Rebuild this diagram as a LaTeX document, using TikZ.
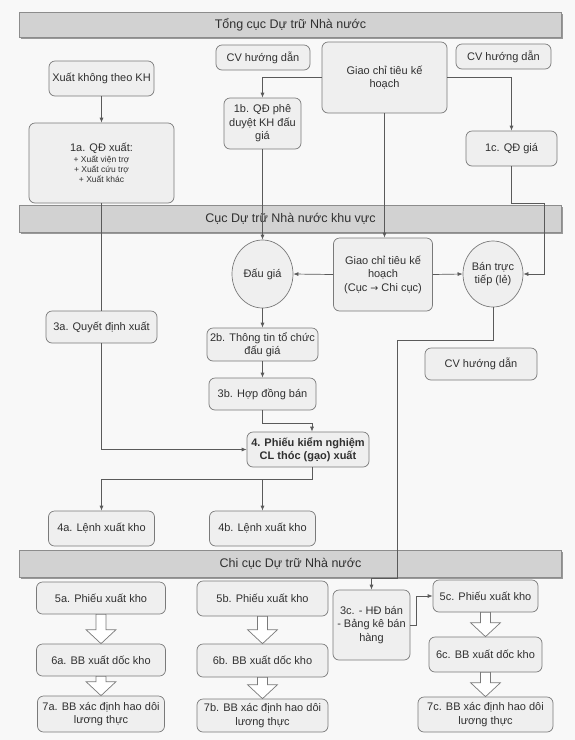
\documentclass[tikz,border=0pt]{standalone}
\usepackage{fontspec}
\setmainfont{Liberation Sans}
\newfontfamily\dejavu{DejaVu Sans}
\usetikzlibrary{arrows.meta,shapes.geometric,calc,shadows}
\definecolor{bgc}{HTML}{F8F8F8}
\definecolor{boxfill}{HTML}{EFEFEF}
\definecolor{boxline}{HTML}{7A7A7A}
\definecolor{bandfill}{HTML}{D2D2D2}
\definecolor{bandline}{HTML}{8C8C8C}
\definecolor{linec}{HTML}{5A5A5A}
\definecolor{txt}{HTML}{303030}
\newcommand{\harrow}[2]{\path[hollow] let \p1=(#1.south), \p2=(#2.north) in
  ({\x1-5pt},\y1) -- ({\x1+5pt},\y1) -- ({\x1+5pt},{\y2+14pt}) -- ({\x1+15pt},{\y2+14pt})
  -- (\x1,\y2) -- ({\x1-15pt},{\y2+14pt}) -- ({\x1-5pt},{\y2+14pt}) -- cycle;}
\newcommand{\smalltxt}{\fontsize{8.5}{10}\selectfont}
\begin{document}
\begin{tikzpicture}[x=1pt,y=-1pt,
 box/.style={draw=boxline, fill=boxfill, rounded corners=6pt, align=center, inner sep=1pt,
   text=txt, font=\fontsize{11}{13.5}\selectfont, line width=0.7pt},
 oval/.style={ellipse, draw=boxline, fill=boxfill, align=center, inner sep=0pt,
   text=txt, font=\fontsize{11}{13.5}\selectfont, line width=0.7pt},
 band/.style={draw=bandline, fill=bandfill, text=txt, font=\fontsize{12.5}{15}\selectfont,
   minimum width=542pt, inner sep=0pt, line width=0.7pt,
   drop shadow={shadow xshift=1pt, shadow yshift=-1.5pt, fill=black!40, opacity=1}},
 conn/.style={draw=linec, line width=0.7pt},
 arr/.style={conn, -{Latex[length=5pt,width=4pt]}},
 hollow/.style={draw=boxline, fill=white, line width=0.7pt}
]
\fill[bgc] (0,0) rectangle (575,740);
\useasboundingbox (0,0) rectangle (575,740);

% bands
\node[band, minimum height=25pt] (band1) at (290.5,24.5) {Tổng cục Dự trữ Nhà nước};
\node[band, minimum height=27pt] (band2) at (290.5,218.5) {Cục Dự trữ Nhà nước khu vực};
\node[band, minimum height=27pt] (band3) at (290.5,563.5) {Chi cục Dự trữ Nhà nước};

% level 1
\node[box, minimum width=94pt, minimum height=25pt] (cv1) at (263,57.5) {CV hướng dẫn};
\node[box, minimum width=125pt, minimum height=71pt] (giaoT) at (384.5,77.5) {Giao chỉ tiêu kế\\hoạch};
\node[box, minimum width=95pt, minimum height=25pt] (cv2) at (503.5,56.5) {CV hướng dẫn};
\node[box, minimum width=105pt, minimum height=35pt] (xk) at (101.5,78.5) {Xuất không theo KH};
\node[box, minimum width=145pt, minimum height=80pt] (n1a) at (101.5,163)
  {1a. QĐ xuất:\\[-2.5pt]\smalltxt + Xuất viện trợ\\[-3.5pt]\smalltxt + Xuất cứu trợ\\[-3.5pt]\smalltxt + Xuất khác};
\node[box, minimum width=77pt, minimum height=51pt] (n1b) at (262.5,123.5) {1b. QĐ phê\\duyệt KH đấu\\giá};
\node[box, minimum width=91pt, minimum height=35pt] (n1c) at (511.5,148.5) {1c. QĐ giá};

% level 2
\node[oval, minimum width=61pt, minimum height=68pt] (dau) at (262.5,274) {Đấu giá};
\node[box, minimum width=99pt, minimum height=73pt] (giaoC) at (383,274.5)
  {Giao chỉ tiêu kế\\hoạch\\(Cục {\dejavu\fontsize{9.5}{13.5}\selectfont →} Chi cục)};
\node[oval, minimum width=60pt, minimum height=66pt] (ban) at (493,274) {Bán trực\\tiếp (lẻ)};
\node[box, minimum width=111pt, minimum height=32pt] (n3a) at (101.5,327) {3a. Quyết định xuất};
\node[box, minimum width=111pt, minimum height=33pt] (n2b) at (262.5,344.5) {2b. Thông tin tổ chức\\đấu giá};
\node[box, minimum width=112pt, minimum height=32pt] (cv3) at (481,364) {CV hướng dẫn};
\node[box, minimum width=107pt, minimum height=32pt] (n3b) at (262.5,394) {3b. Hợp đồng bán};
\node[box, minimum width=122pt, minimum height=35pt, font=\fontsize{11}{13.5}\selectfont\bfseries] (n4) at (308,449.5)
  {4. Phiếu kiểm nghiệm\\CL thóc (gạo) xuất};
\node[box, minimum width=106pt, minimum height=35pt] (n4a) at (101.5,528.5) {4a. Lệnh xuất kho};
\node[box, minimum width=106pt, minimum height=35pt] (n4b) at (262.5,528.5) {4b. Lệnh xuất kho};

% level 3
\node[box, minimum width=129pt, minimum height=32pt] (n5a) at (101,598) {5a. Phiếu xuất kho};
\node[box, minimum width=129pt, minimum height=32pt] (n6a) at (101,660) {6a. BB xuất dốc kho};
\node[box, minimum width=127pt, minimum height=36pt] (n7a) at (101,714) {7a. BB xác định hao dôi\\lương thực};
\node[box, minimum width=131pt, minimum height=35pt] (n5b) at (262.5,598.5) {5b. Phiếu xuất kho};
\node[box, minimum width=131pt, minimum height=33pt] (n6b) at (262.5,660.5) {6b. BB xuất dốc kho};
\node[box, minimum width=131pt, minimum height=33pt] (n7b) at (262.5,715.5) {7b. BB xác định hao dôi\\lương thực};
\node[box, minimum width=77pt, minimum height=70pt] (n3c) at (371.5,625) {3c. - HĐ bán\\- Bảng kê bán\\hàng};
\node[box, minimum width=105pt, minimum height=32pt] (n5c) at (485.5,596) {5c. Phiếu xuất kho};
\node[box, minimum width=113pt, minimum height=35pt] (n6c) at (485.5,654.5) {6c. BB xuất dốc kho};
\node[box, minimum width=135pt, minimum height=35pt] (n7c) at (485.5,714.5) {7c. BB xác định hao dôi\\lương thực};

% connectors
\coordinate (k1) at (544,203);
\coordinate (k2) at (312,423);
\coordinate (k3) at (312,479);
\coordinate (k4) at (397,340);
\coordinate (k5) at (397,578);
\coordinate (k6) at (416,625);

\draw[arr] (xk.south) -- (n1a.north);
\draw[arr] (giaoT.west) -| (n1b.north);
\draw[arr] (giaoT.east) -| (n1c.north);
\draw[arr] (giaoT.south) -- (giaoT.south |- giaoC.north);
\draw[arr] (n1b.south) -- (dau.north);
\draw[arr] (n1c.south) |- (k1) |- (ban.east);
\draw[arr] (giaoC.west) -- (dau.east);
\draw[arr] (giaoC.east) -- (ban.west);
\draw[conn] (n1a.south) -- (n1a.south |- n3a.north);
\draw[arr] (n3a.south) |- (n4.west);
\draw[arr] (dau.south) -- (n2b.north);
\draw[arr] (n2b.south) -- (n3b.north);
\draw[arr] (n3b.south) |- (k2) -- (k2 |- n4.north);
\draw[arr] (k3 |- n4.south) -- (k3) -| (n4a.north);
\draw[arr] (n4b.north |- k3) -- (n4b.north);
\draw[arr] (ban.south) |- (k4) -- (k5) -| (n3c.north);
\draw[arr] (n3c.east) -- (k6) |- (n5c.west);

\harrow{n5a}{n6a}
\harrow{n6a}{n7a}
\harrow{n5b}{n6b}
\harrow{n6b}{n7b}
\harrow{n5c}{n6c}
\harrow{n6c}{n7c}
\end{tikzpicture}
\end{document}
